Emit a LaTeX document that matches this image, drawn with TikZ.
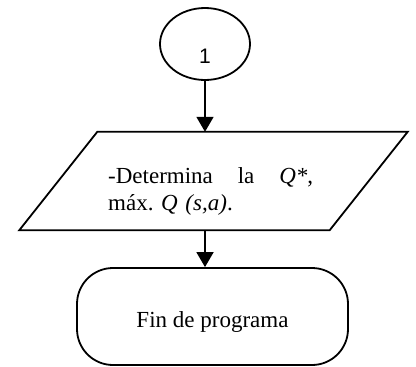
\documentclass[tikz,border=0pt]{standalone}
\usepackage{fontspec}
\setmainfont{Liberation Serif}
\newfontfamily\numfont{Liberation Sans}
\usetikzlibrary{shapes.geometric,arrows.meta}
\begin{document}
\frenchspacing
\begin{tikzpicture}[x=1pt,y=-1pt,
  shp/.style={draw=black,line width=1.8pt},
  conn/.style={line width=1.8pt,-{Triangle[length=15pt,width=17pt]}},
  txt/.style={font=\fontsize{23}{27}\selectfont,inner sep=0pt}]
\useasboundingbox (0,0) rectangle (416,367);
% start connector
\node[shp,ellipse,minimum width=90pt,minimum height=72pt,inner sep=0pt,
  label={[font=\numfont\fontsize{21}{23}\selectfont,yshift=-12pt]center:1}] (c1) at (205,44) {};
% process (parallelogram)
\node[minimum width=310pt,minimum height=98pt,inner sep=0pt] (p) at (213.5,181) {};
\draw[line width=1.8pt,line join=miter]
  ([xshift=39pt]p.north west) -- ([xshift=39pt]p.north east) --
  ([xshift=-39pt]p.south east) -- ([xshift=-39pt]p.south west) -- cycle;
\node[txt,anchor=base west,text width=205pt,align=left] (t) at (108,183)
  {-Determina\hfill la\hfill \textit{Q*},\\ máx. \textit{Q (s,a)}.};
% terminal
\node[shp,rectangle,rounded corners=36pt,minimum width=271pt,minimum height=97pt,inner sep=0pt,
  label={[txt,yshift=-6pt]center:Fin de programa}] (e) at (212.5,316.5) {};
% connectors
\draw[conn] (c1.south) -- (c1.south |- p.north);
\draw[conn] (c1.south |- p.south) -- (c1.south |- e.north);
\end{tikzpicture}
\end{document}
